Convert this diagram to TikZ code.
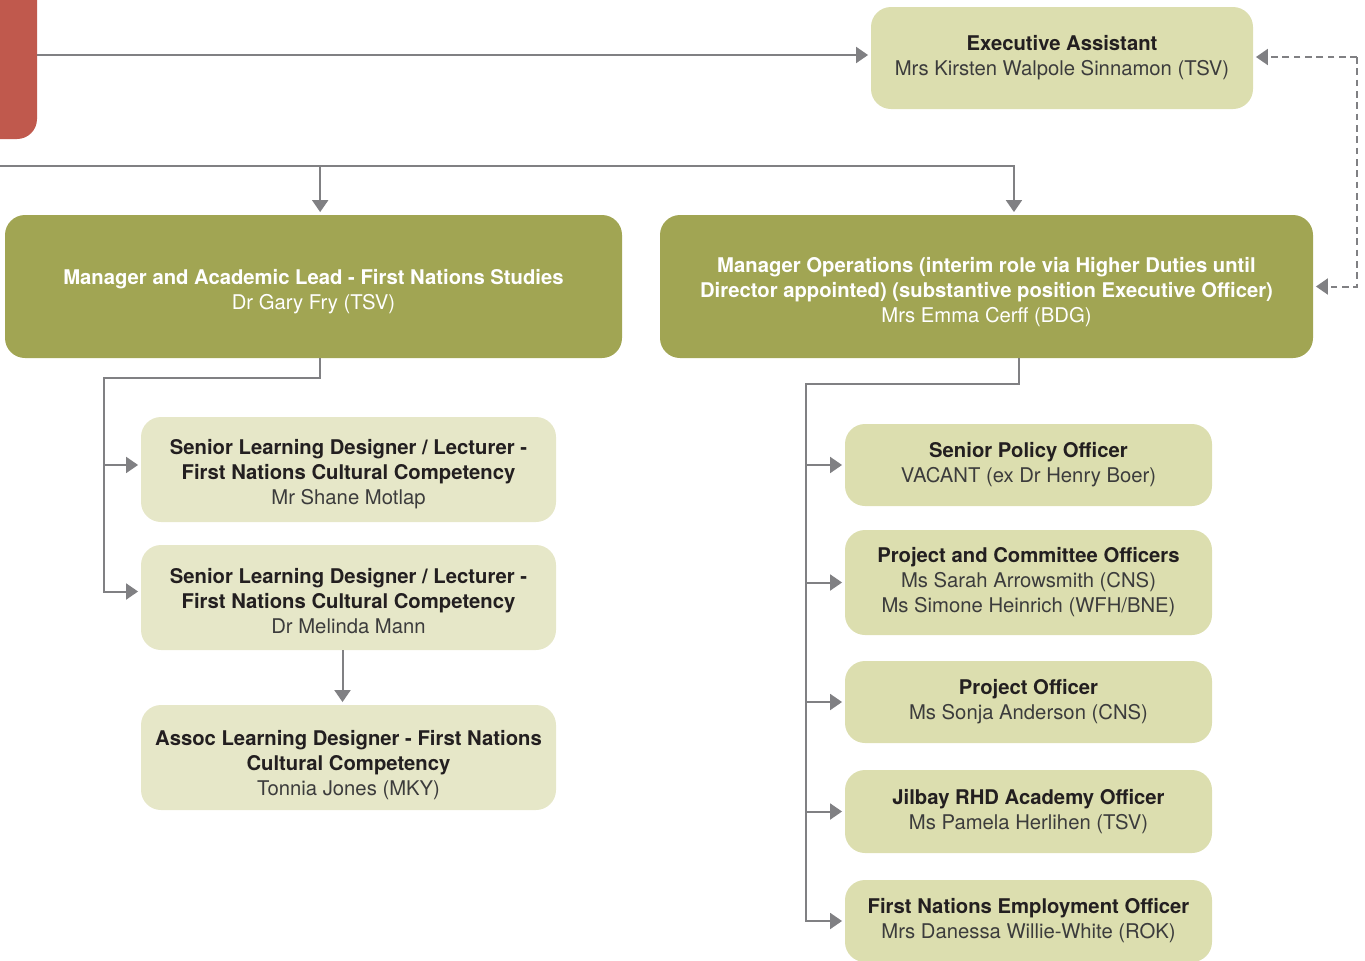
\documentclass[tikz,border=0pt]{standalone}
\usepackage{fontspec}
\setmainfont{TeX Gyre Heros}
\usetikzlibrary{arrows.meta}
\definecolor{leadgreen}{HTML}{A1A553}
\definecolor{palegreen}{HTML}{DCDEAF}
\definecolor{palergreen}{HTML}{E6E7C8}
\definecolor{headred}{HTML}{C0594D}
\definecolor{linegray}{HTML}{808083}
\definecolor{titleink}{HTML}{231F20}
\definecolor{nameink}{HTML}{3C3C3C}
\newcommand{\ttl}[1]{{\bfseries\color{titleink}#1}}
\newcommand{\dropby}[1]{\rule{0pt}{#1}}
\begin{document}
\begin{tikzpicture}[x=0.75pt,y=-0.75pt,
  box/.style={rounded corners=15pt,align=center,inner sep=0pt,text=nameink,
    font=\fontsize{15.2}{18.75}\selectfont},
  mgrbox/.style={box,fill=leadgreen,text=white,minimum height=107.25pt},
  staffbox/.style={box,fill=palegreen,minimum width=275.25pt},
  lecbox/.style={box,fill=palergreen,minimum width=311.25pt,minimum height=78.75pt},
  conn/.style={draw=linegray,line width=1.5pt,-{Triangle[length=9pt,width=12pt]},
    shorten >=2pt,color=linegray},
  dconn/.style={conn,dash pattern=on 5pt off 3.5pt}]
  \useasboundingbox (0,0) rectangle (1365,961);
  \node[fill=headred,rounded corners=15pt,minimum width=57.75pt,minimum height=134.25pt] (head) at (-1.5,49.5) {};
  \node[box,fill=palegreen,minimum width=286.5pt,minimum height=76.5pt] (ea) at (1062,58)
    {\ttl{Executive Assistant}\\Mrs Kirsten Walpole Sinnamon (TSV)};
  \node[mgrbox,minimum width=462.75pt] (lead) at (313.5,286.5)
    {\dropby{19pt}\textbf{Manager and Academic Lead - First Nations Studies}\\Dr Gary Fry (TSV)};
  \node[mgrbox,minimum width=489.75pt] (ops) at (986.5,286.5)
    {\dropby{19pt}\textbf{Manager Operations (interim role via Higher Duties until}\\
     \textbf{Director appointed) (substantive position Executive Officer)}\\Mrs Emma Cerff (BDG)};
  % left branch
  \node[lecbox] (sld1) at (348.5,469.5)
    {\dropby{19pt}\ttl{Senior Learning Designer / Lecturer -}\\\ttl{First Nations Cultural Competency}\\Mr Shane Motlap};
  \node[lecbox] (sld2) at (348.5,597.5)
    {\dropby{16pt}\ttl{Senior Learning Designer / Lecturer -}\\\ttl{First Nations Cultural Competency}\\Dr Melinda Mann};
  \node[lecbox] (ald) at (348.5,757.5)
    {\dropby{22pt}\ttl{Assoc Learning Designer - First Nations}\\\ttl{Cultural Competency}\\Tonnia Jones (MKY)};
  % right branch
  \node[staffbox,minimum height=61.5pt] (spo) at (1028.5,465)
    {\ttl{Senior Policy Officer}\\VACANT (ex Dr Henry Boer)};
  \node[staffbox,minimum height=78.75pt] (pco) at (1028.5,582.5)
    {\ttl{Project and Committee Officers}\\Ms Sarah Arrowsmith (CNS)\\Ms Simone Heinrich (WFH/BNE)};
  \node[staffbox,minimum height=61.5pt] (po) at (1028.5,702)
    {\ttl{Project Officer}\\Ms Sonja Anderson (CNS)};
  \node[staffbox,minimum height=62.25pt] (jrhd) at (1028.5,811.5)
    {\ttl{Jilbay RHD Academy Officer}\\Ms Pamela Herlihen (TSV)};
  \node[staffbox,minimum height=61.5pt] (fneo) at (1028.5,921)
    {\ttl{First Nations Employment Officer}\\Mrs Danessa Willie-White (ROK)};
  \coordinate (topl) at (0,166);
  \coordinate (lspine) at (104,378);
  \coordinate (rspine) at (806,384);
  \coordinate (dash) at (1357,57);
  \draw[conn] (head.east |- 0,55) -- (ea.west |- 0,55);
  \draw[conn] (topl) -| ([xshift=20.6pt]ops.north);
  \draw[conn] ([xshift=5pt]lead.north |- topl) -- ([xshift=5pt]lead.north);
  \draw[dconn] (dash) -- (ea.east |- dash);
  \draw[dconn] (dash) |- (ops.east);
  \draw[conn] ([xshift=5pt]lead.south) |- (lspine) |- ([yshift=3.4pt]sld1.west);
  \draw[conn] (lspine) |- ([yshift=4.5pt]sld2.west);
  \draw[conn] ([xshift=-4.5pt]sld2.south) -- ([xshift=-4.5pt]ald.north);
  \draw[conn] ([xshift=24pt]ops.south) |- (rspine) |- (spo.west);
  \foreach \n in {pco,po,jrhd,fneo}
    \draw[conn] (rspine) |- (\n.west);
\end{tikzpicture}
\end{document}
